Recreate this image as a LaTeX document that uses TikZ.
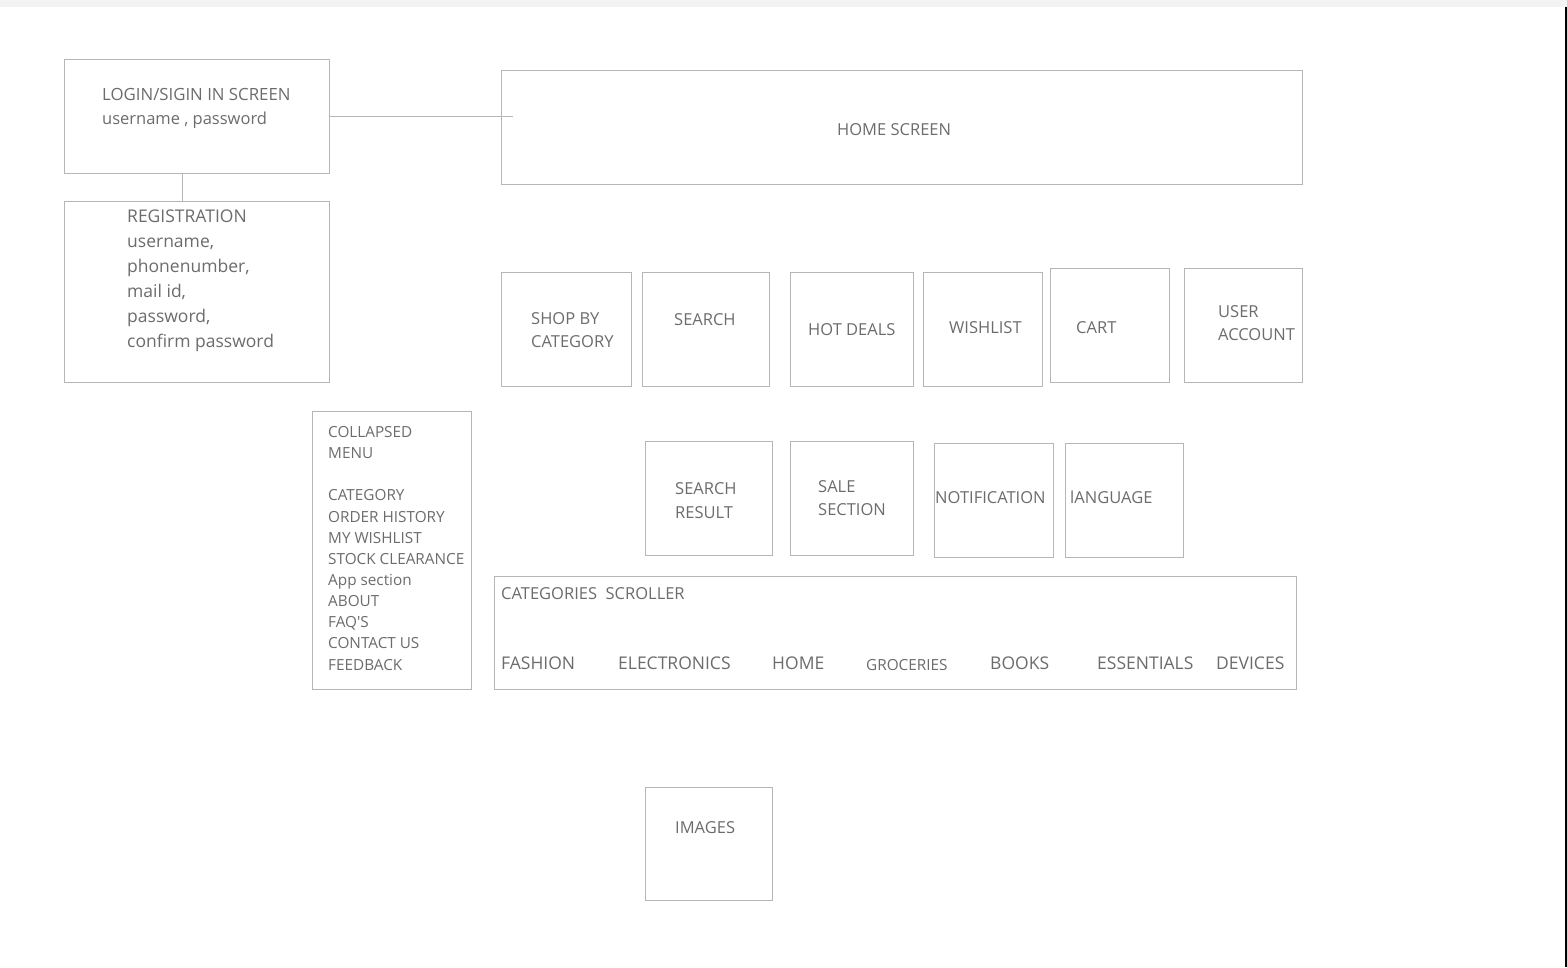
\documentclass[tikz,border=0pt]{standalone}
\usepackage{fontspec}
\setmainfont{Open Sans}
% same face without the TeX quote mapping, for straight apostrophes
\newfontfamily\plainsans{Open Sans}
\usetikzlibrary{fit}
\definecolor{edgegray}{RGB}{182,182,182}
\definecolor{inkgray}{RGB}{108,108,108}
\definecolor{bandgray}{RGB}{243,243,243}
\begin{document}
\begin{tikzpicture}[x=1pt,y=-1pt,
  screen/.style={draw=edgegray, line width=1pt, inner sep=0pt, fit={#1}},
  link/.style={draw=edgegray, line width=1pt},
  lbl/.style={anchor=base west, inner sep=0pt, text=inkgray, font=\fontsize{16.5}{20}\selectfont},
  big/.style={lbl, font=\fontsize{17.5}{21}\selectfont},
  small/.style={lbl, font=\fontsize{15.3}{18}\selectfont}]
% page
\fill[white] (0,0) rectangle (1567,967);
\useasboundingbox (0,0) rectangle (1567,967);
\fill[bandgray] (0,0) rectangle (1567,6.5);
\fill[black] (1564.5,7) rectangle (1567,967);

% screens
\node[screen={(64,59)(329,173)}] (login) {};
\node[screen={(501,70)(1302,184)}] (home) {};
\node[screen={(64,201)(329,382)}] (reg) {};
\node[screen={(312,411)(471,689)}] (menu) {};
\node[screen={(501,272)(631,386)}] (shop) {};
\node[screen={(642,272)(769,386)}] (search) {};
\node[screen={(790,272)(913,386)}] (deals) {};
\node[screen={(923,272)(1042,386)}] (wish) {};
\node[screen={(1050,268)(1169,382)}] (cart) {};
\node[screen={(1184,268)(1302,382)}] (account) {};
\node[screen={(645,441)(772,555)}] (result) {};
\node[screen={(790,441)(913,555)}] (sale) {};
\node[screen={(934,443)(1053,557)}] (notif) {};
\node[screen={(1065,443)(1183,557)}] (lang) {};
\node[screen={(494,576)(1296,689)}] (scroller) {};
\node[screen={(645,787)(772,900)}] (images) {};

% connectors
\coordinate (homein) at (513,116);
\draw[link] (login.east) -- (homein);
\draw[link] ([xshift=-14.5pt]login.south) -- ([xshift=-14.5pt]reg.north);

% login
\node[lbl, font=\fontsize{16.8}{20}\selectfont] (login-1) at (102,100) {LOGIN/SIGIN IN SCREEN};
\node[lbl] (login-2) at (102,124) {username , password};
% home
\node[lbl] (home-t) at (837,135) {HOME SCREEN};
% registration
\foreach \t [count=\i from 0] in {REGISTRATION,{username,},{phonenumber,},{mail id,},{password,},confirm password}
  \node[big] (reg-\i) at (127,222+25*\i) {\t};
% collapsed menu
\foreach \t [count=\i from 0] in {COLLAPSED,MENU,{},CATEGORY,ORDER HISTORY,MY WISHLIST,STOCK CLEARANCE,App section,ABOUT,{\plainsans FAQ'S},CONTACT US,FEEDBACK}
  \node[small] (menu-\i) at (328,437.5+21.14*\i) {\t};
% top row
\node[lbl] (shop-1) at (531,324) {SHOP BY};
\node[lbl] (shop-2) at (531,347) {CATEGORY};
\node[lbl] (search-t) at (674,325) {SEARCH};
\node[lbl] (deals-t) at (808,335) {HOT DEALS};
\node[lbl] (wish-t) at (949,333) {WISHLIST};
\node[lbl] (cart-t) at (1076,333) {CART};
\node[lbl] (account-1) at (1218,317) {USER};
\node[lbl] (account-2) at (1218,340) {ACCOUNT};
% second row
\node[lbl] (result-1) at (675,494) {SEARCH};
\node[lbl] (result-2) at (675,518) {RESULT};
\node[lbl] (sale-1) at (818,492) {SALE};
\node[lbl] (sale-2) at (818,515) {SECTION};
\node[lbl] (notif-t) at (935,503) {NOTIFICATION};
\node[lbl] (lang-t) at (1070,503) {lANGUAGE};
% scroller
\node[lbl] (scroller-t) at (501,599) {CATEGORIES\ \ SCROLLER};
\node[big] (cat-1) at (501,669) {FASHION};
\node[big] (cat-2) at (618,669) {ELECTRONICS};
\node[big] (cat-3) at (772,669) {HOME};
\node[small] (cat-4) at (866,670.5) {GROCERIES};
\node[big] (cat-5) at (990,669) {BOOKS};
\node[big] (cat-6) at (1097,669) {ESSENTIALS};
\node[big] (cat-7) at (1216,669) {DEVICES};
% images
\node[lbl] (images-t) at (675,833) {IMAGES};
\end{tikzpicture}
\end{document}
